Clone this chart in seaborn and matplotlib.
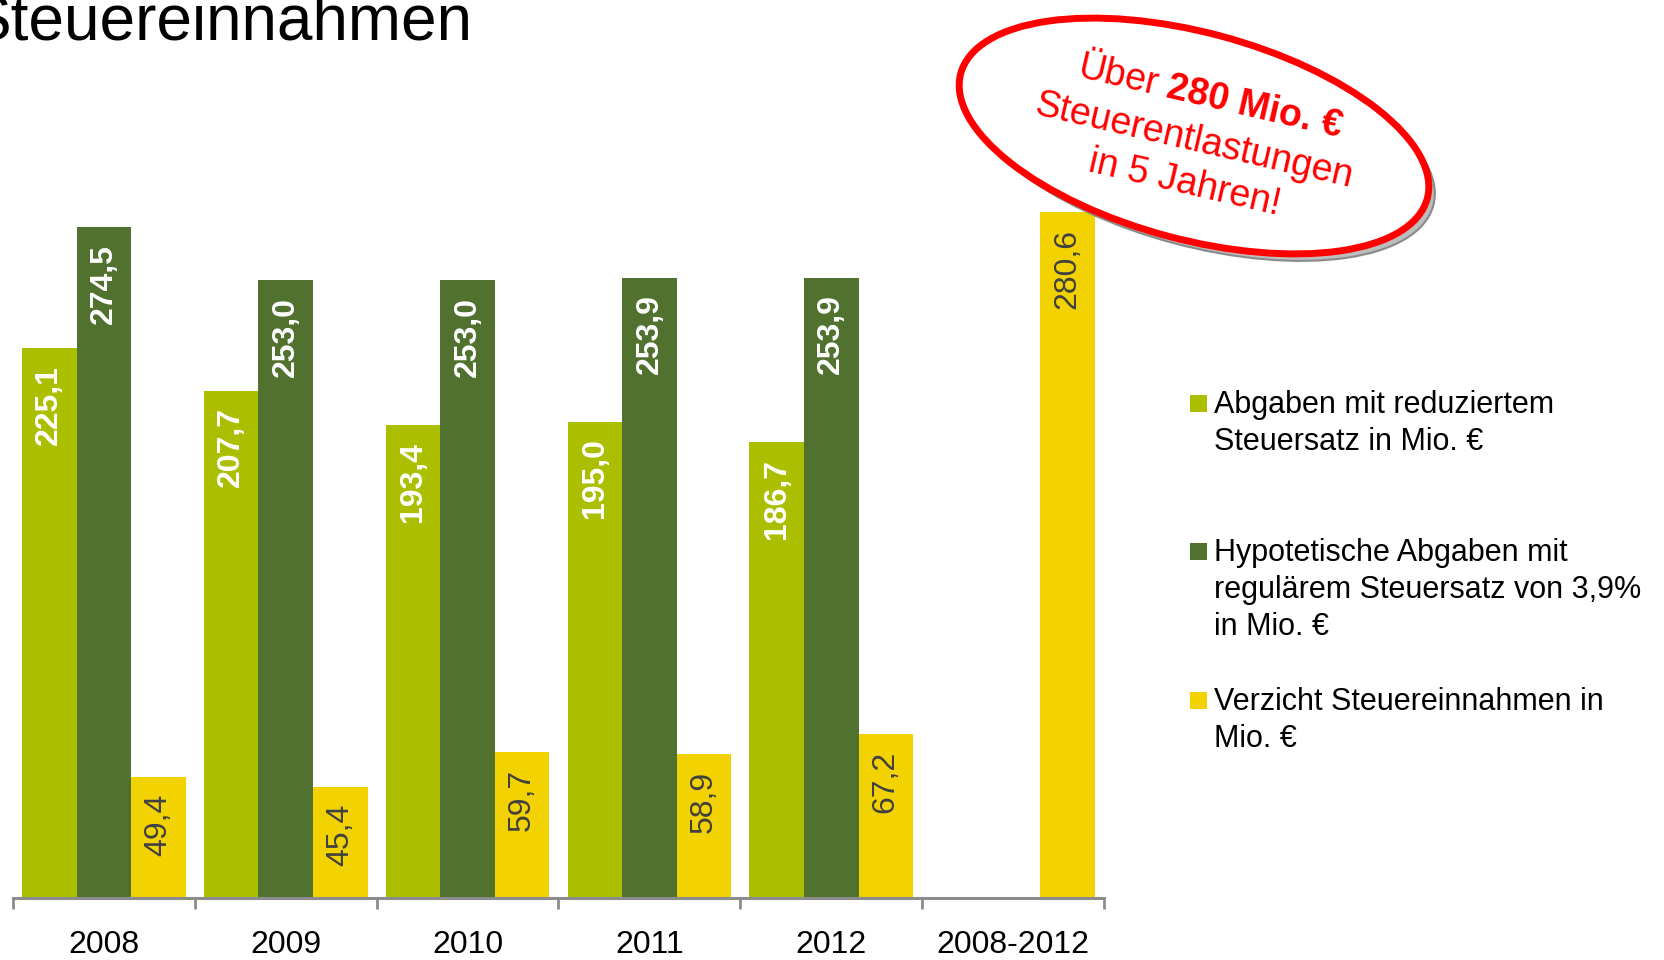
import numpy as np
import pandas as pd
import matplotlib
matplotlib.use("Agg")
import matplotlib.pyplot as plt
import seaborn as sns
from matplotlib.patches import Ellipse, Rectangle

## Daten
jahre = ["2008", "2009", "2010", "2011", "2012", "2008-2012"]
reduziert = [225.1, 207.7, 193.4, 195.0, 186.7, np.nan]
hypothetisch = [274.5, 253.0, 253.0, 253.9, 253.9, np.nan]
verzicht = [49.4, 45.4, 59.7, 58.9, 67.2, 280.6]

serien = ["Abgaben mit reduziertem\nSteuersatz in Mio. €",
          "Hypotetische Abgaben mit\nregulärem Steuersatz von 3,9%\nin Mio. €",
          "Verzicht Steuereinnahmen in\nMio. €"]
farben = ["#abbf00", "#51722f", "#f2d200"]
label_farben = ["white", "white", "#404040"]
label_gewicht = ["bold", "bold", "normal"]

df = pd.DataFrame({
    "jahr": jahre * 3,
    "serie": [s for s in serien for _ in jahre],
    "wert": reduziert + hypothetisch + verzicht,
})

sns.set_style("white")
plt.rcParams["font.family"] = ["Liberation Sans", "DejaVu Sans"]

fig = plt.figure(figsize=(16.64, 9.6), dpi=100)
ax = fig.add_axes([13 / 1664, 62 / 960, 1091 / 1664, 0.7635])

sns.barplot(data=df, x="jahr", y="wert", hue="serie", hue_order=serien, order=jahre,
            palette=farben, width=0.9, gap=0, errorbar=None, saturation=1,
            legend=False, linewidth=0, ax=ax)

## Werte in die Balken
for cont, fc, fw in zip(ax.containers, label_farben, label_gewicht):
    for bar in cont:
        h = bar.get_height()
        if np.isnan(h) or h == 0:
            continue
        ax.annotate(f"{h:.1f}".replace(".", ","), (bar.get_x() + bar.get_width() / 2, h),
                    xytext=(0, -12), textcoords="offset points", rotation=90,
                    ha="center", va="top", fontsize=23, color=fc, fontweight=fw)

ax.set_ylim(0, 300)
ax.set_xlim(-0.5, 5.5)
ax.set_xlabel("")
ax.set_ylabel("")
ax.set_yticks([])
for s in ["top", "left", "right"]:
    ax.spines[s].set_visible(False)
ax.spines["bottom"].set_color("#8c8c8c")
ax.spines["bottom"].set_linewidth(2.2)
ax.set_xticks(np.arange(-0.5, 6, 1), minor=True)
ax.tick_params(axis="x", which="minor", bottom=True, length=8, width=2, color="#8c8c8c", direction="out")
ax.tick_params(axis="x", which="major", bottom=True, length=0, labelsize=23, pad=23, labelcolor="black")
ax.patch.set_alpha(0)

## Overlay in Pixelkoordinaten (y nach unten)
ov = fig.add_axes([0, 0, 1, 1], zorder=5)
ov.set_xlim(0, 1664)
ov.set_ylim(960, 0)
ov.axis("off")
ov.patch.set_alpha(0)

## Titel
ov.text(-32, 40, "Steuereinnahmen", fontsize=46, ha="left", va="baseline", color="black")

## Legende
y0 = 403.5
for i, (lab, col) in enumerate(zip(serien, farben)):
    yc = y0 + i * 148.3
    ov.add_patch(Rectangle((1190, yc - 8.5), 17, 17, facecolor=col, edgecolor="none"))
    for j, zeile in enumerate(lab.split("\n")):
        ov.text(1214, yc + 9.5 + j * 37, zeile, fontsize=22, ha="left", va="baseline", color="black")

## Stempel
ov.add_patch(Ellipse((1200, 143), 483, 207, angle=15, facecolor="#bdbdbd", edgecolor="#8a8a8a", lw=1.5))
ov.add_patch(Ellipse((1194, 136), 483, 207, angle=15, facecolor="white", edgecolor="#ff0000", lw=5))

rot = "#ff0000"
fs = 27
winkel = 13
dx, dy = np.cos(np.radians(winkel)), np.sin(np.radians(winkel))
r = fig.canvas.get_renderer()
t1 = ov.text(0, 0, "Über", fontsize=fs, color=rot)
t2 = ov.text(0, 0, "280 Mio. €", fontsize=fs, color=rot, fontweight="bold")
w1 = t1.get_window_extent(r).width
w2 = t2.get_window_extent(r).width
gap = 0.28 * fs * 100 / 72
W = w1 + gap + w2
cx, cy = 1208, 107
sx, sy = cx - W / 2 * dx, cy - W / 2 * dy
t1.set_position((sx, sy))
t2.set_position((sx + (w1 + gap) * dx, sy + (w1 + gap) * dy))
for t in (t1, t2):
    t.set(rotation=-winkel, rotation_mode="anchor", ha="left", va="baseline")

ov.text(1192, 151, "Steuerentlastungen", fontsize=fs, color=rot, ha="center", va="baseline",
        rotation=-winkel, rotation_mode="anchor")
ov.text(1182, 193, "in 5 Jahren!", fontsize=fs, color=rot, ha="center", va="baseline",
        rotation=-winkel, rotation_mode="anchor")

fig.savefig("out.png", dpi=100)
